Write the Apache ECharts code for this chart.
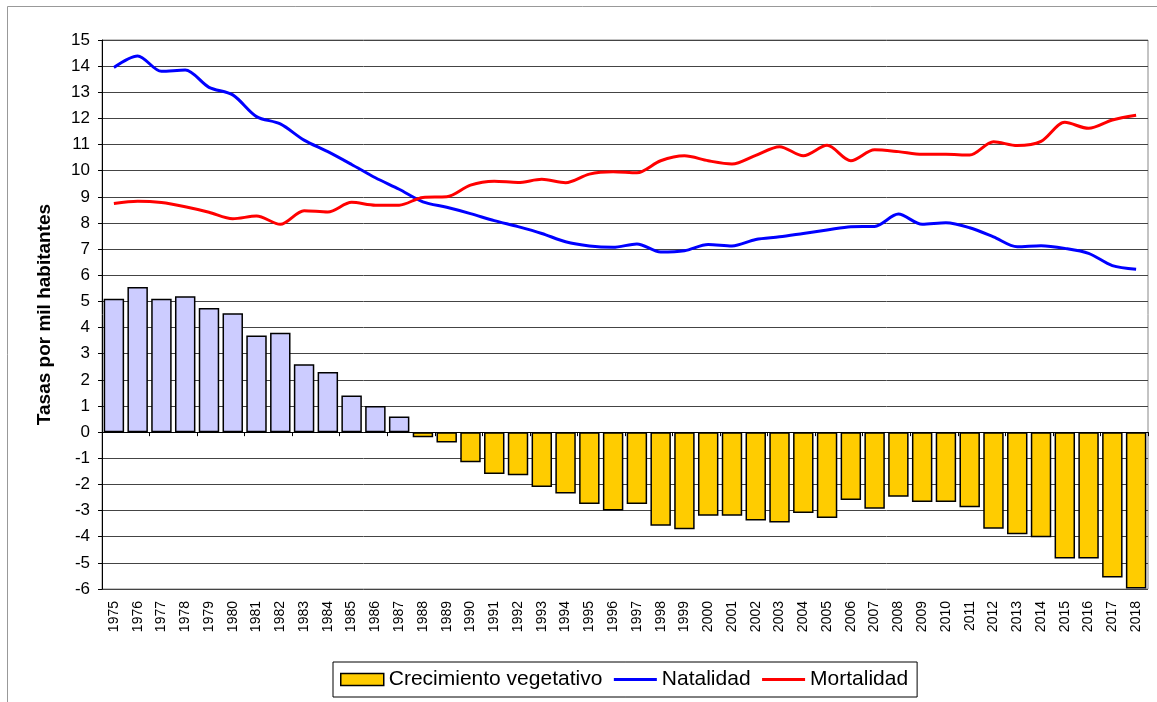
<!DOCTYPE html>
<html>
<head>
<meta charset="utf-8">
<script src="https://cdn.jsdelivr.net/npm/echarts@6/dist/echarts.min.js"></script>
<style>
  html, body { margin: 0; padding: 0; background: #fff; }
  #chart { width: 1157px; height: 702px; }
</style>
</head>
<body>
<div id="chart"></div>
<script>
// años
const years = [];
for (let y = 1975; y <= 2018; y++) years.push(String(y));

// crecimiento vegetativo (por mil)
const crecimiento = [
  5.1, 5.55, 5.1, 5.2, 4.75, 4.55, 3.7, 3.8, 2.6, 2.3, 1.4, 1.0, 0.6,
  -0.2, -0.4, -1.15, -1.6, -1.65, -2.1, -2.35, -2.75, -3.0, -2.75, -3.58, -3.71,
  -3.2, -3.2, -3.38, -3.46, -3.09, -3.28, -2.6, -2.93, -2.47, -2.67, -2.67,
  -2.87, -3.7, -3.91, -4.02, -4.83, -4.83, -5.56, -5.98
];

// natalidad
const natalidad = [
  13.95, 14.39, 13.8, 13.85, 13.19, 12.9, 12.07, 11.79, 11.17, 10.73, 10.24, 9.73, 9.29,
  8.81, 8.6, 8.36, 8.09, 7.86, 7.6, 7.28, 7.12, 7.07, 7.2, 6.89, 6.94,
  7.18, 7.12, 7.37, 7.47, 7.6, 7.73, 7.86, 7.87, 8.34, 7.95, 8.01,
  7.82, 7.47, 7.09, 7.13, 7.03, 6.84, 6.37, 6.23
];

// mortalidad
const mortalidad = [
  8.75, 8.83, 8.78, 8.62, 8.41, 8.16, 8.27, 7.95, 8.47, 8.42, 8.79, 8.68, 8.68,
  8.98, 9.0, 9.45, 9.6, 9.55, 9.67, 9.54, 9.87, 9.96, 9.92, 10.38, 10.57,
  10.38, 10.26, 10.59, 10.92, 10.57, 10.97, 10.38, 10.8, 10.73, 10.63, 10.63,
  10.6, 11.11, 10.96, 11.12, 11.85, 11.62, 11.94, 12.12
];

const chart = echarts.init(document.getElementById('chart'), null, { renderer: 'canvas' });

const fontFam = 'Liberation Sans, Arial, sans-serif';

// barras positivas en lila, negativas en amarillo
const barData = crecimiento.map(v => v > 0
  ? { value: v, itemStyle: { color: '#ccccff' } }
  : v);

const option = {
  animation: false,
  backgroundColor: '#ffffff',
  textStyle: { fontFamily: fontFam },
  graphic: [{
    type: 'rect',
    left: 5, top: 4,
    shape: { width: 1170, height: 720 },
    style: { fill: 'none', stroke: '#999', lineWidth: 1 },
    silent: true
  }],
  grid: {
    left: 102, right: 9, top: 40, bottom: 113,
    show: true, borderColor: '#888', borderWidth: 1,
    containLabel: false
  },
  legend: {
    left: 333, top: 662,
    padding: [7, 9, 7, 7],
    borderColor: '#000', borderWidth: 1,
    itemGap: 10,
    itemWidth: 43, itemHeight: 12,
    textStyle: { fontSize: 21, color: '#000', fontFamily: fontFam },
    data: [
      { name: 'Crecimiento vegetativo', icon: 'rect', itemStyle: { color: '#ffcc00', borderColor: '#000', borderWidth: 1.5 } },
      { name: 'Natalidad', itemStyle: { opacity: 0 }, lineStyle: { width: 3 } },
      { name: 'Mortalidad', itemStyle: { opacity: 0 }, lineStyle: { width: 3 } }
    ]
  },
  xAxis: [{
    type: 'category',
    data: years,
    axisLine: { onZero: true, lineStyle: { color: '#000', width: 1 } },
    axisTick: { show: true, alignWithLabel: false, length: 4, lineStyle: { color: '#000' } },
    axisLabel: { show: false },
    splitLine: { show: false }
  }, {
    type: 'category',
    data: years,
    position: 'bottom',
    axisLine: { show: false, onZero: false },
    axisTick: { show: false },
    axisLabel: { rotate: 90, fontSize: 14, color: '#000', margin: 12, interval: 0, fontFamily: fontFam },
    splitLine: { show: false }
  }],
  yAxis: {
    type: 'value',
    min: -6, max: 15, interval: 1,
    name: 'Tasas por mil habitantes',
    nameLocation: 'middle',
    nameGap: 48,
    nameTextStyle: { fontSize: 19, fontWeight: 'bold', color: '#000', fontFamily: fontFam },
    axisLine: { show: true, lineStyle: { color: '#000', width: 1 } },
    axisTick: { show: true, length: 4, lineStyle: { color: '#000' } },
    axisLabel: { fontSize: 17, color: '#000', margin: 12, fontFamily: fontFam },
    splitLine: { show: true, lineStyle: { color: '#444', width: 1 } }
  },
  series: [{
    name: 'Crecimiento vegetativo',
    type: 'bar',
    data: barData,
    barCategoryGap: '14%',
    itemStyle: { color: '#ffcc00', borderColor: '#000', borderWidth: 1.5 },
    z: 2
  }, {
    name: 'Natalidad',
    type: 'line',
    data: natalidad,
    smooth: 0.3,
    showSymbol: false,
    symbol: 'none',
    lineStyle: { color: '#0000ff', width: 3 },
    itemStyle: { color: '#0000ff' },
    z: 3
  }, {
    name: 'Mortalidad',
    type: 'line',
    data: mortalidad,
    smooth: 0.3,
    showSymbol: false,
    symbol: 'none',
    lineStyle: { color: '#ff0000', width: 3 },
    itemStyle: { color: '#ff0000' },
    z: 3
  }]
};

chart.setOption(option);
</script>
</body>
</html>
